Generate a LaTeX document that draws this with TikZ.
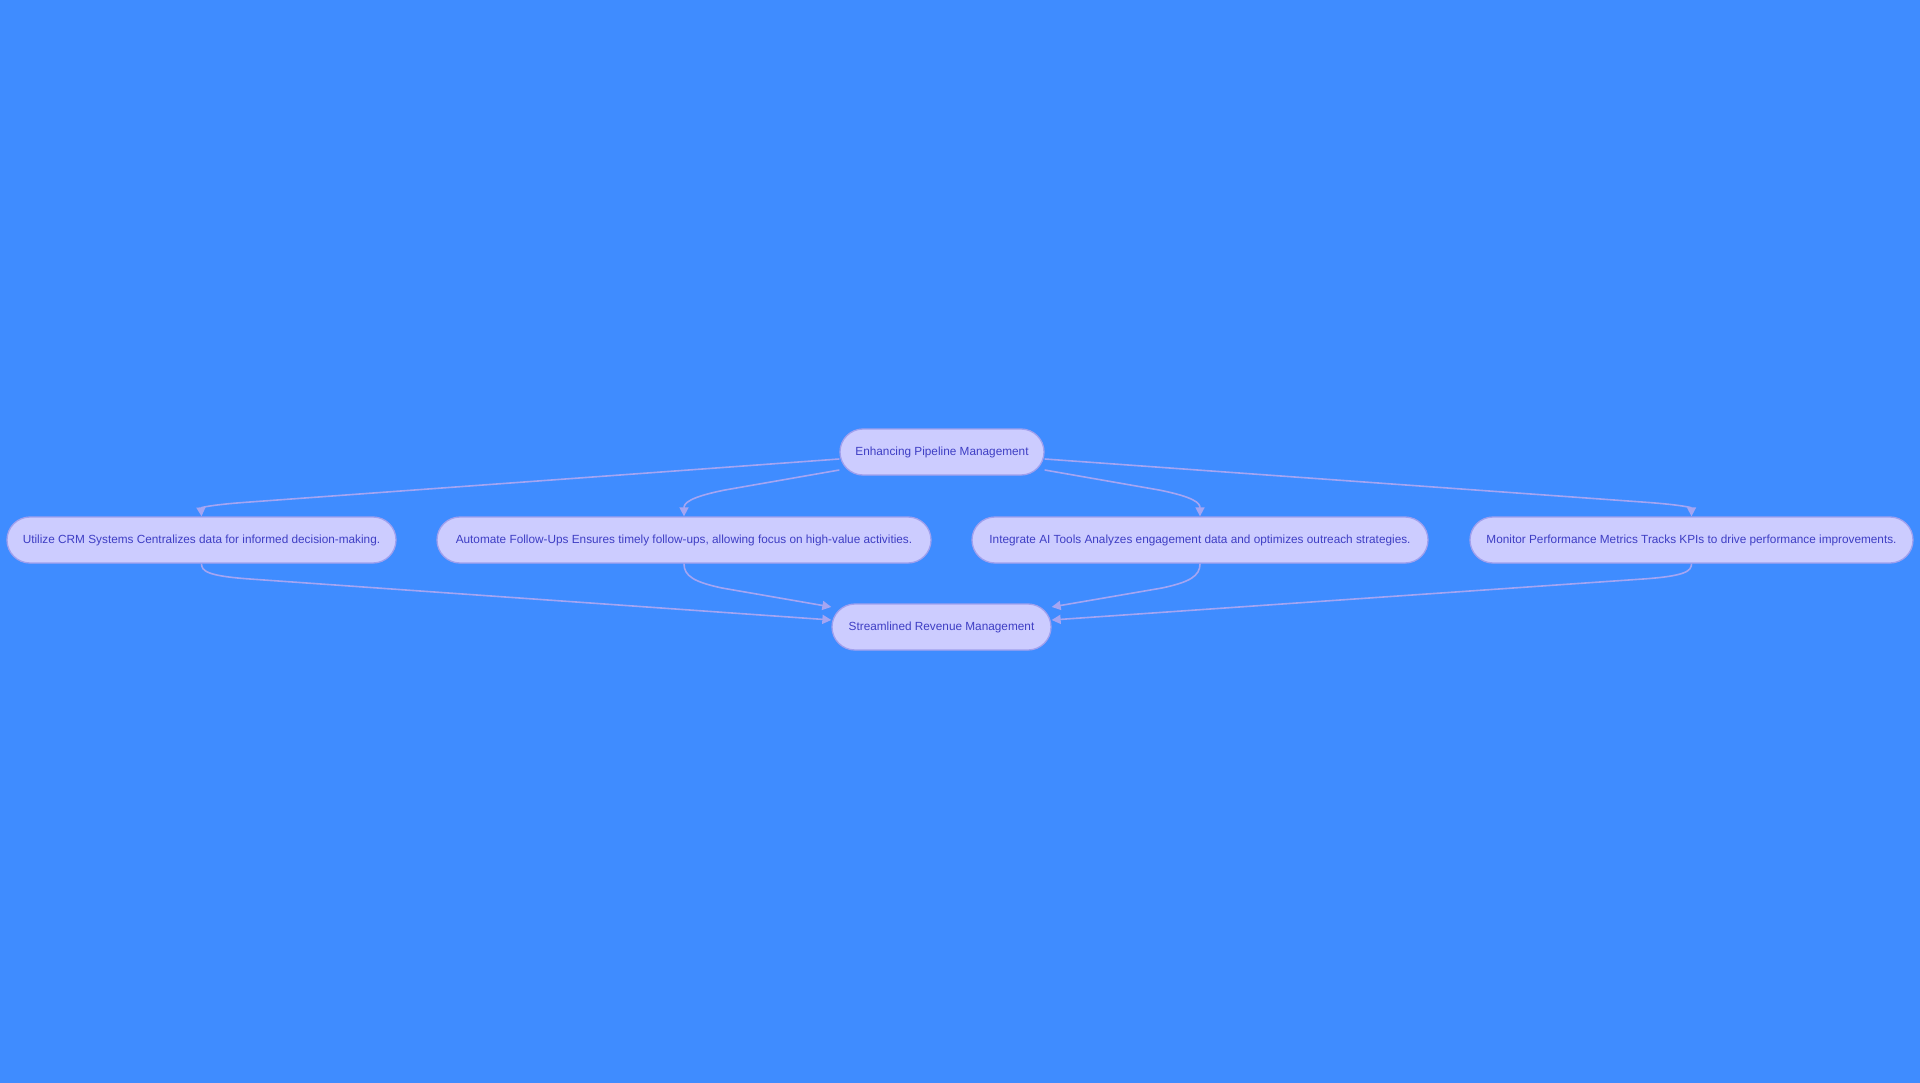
\documentclass[tikz,border=0pt]{standalone}
\usepackage{fontspec}
\setmainfont{Liberation Sans}
\usetikzlibrary{arrows.meta}
\definecolor{bgcol}{RGB}{63,140,255}
\definecolor{nodefill}{RGB}{204,204,255}
\definecolor{nodeline}{RGB}{160,160,238}
\definecolor{txtcol}{RGB}{62,62,196}
\definecolor{edgecol}{RGB}{165,165,242}
\tikzset{
  pill/.style={draw=nodeline, fill=nodefill, line width=1.3pt, rounded corners=23pt,
    minimum height=46pt, inner sep=0pt, text=txtcol,
    font=\fontsize{11.8pt}{13pt}\selectfont},
  flow/.style={draw=edgecol, line width=1.6pt, -{Triangle[length=9pt,width=9pt]}}
}
\begin{document}
\begin{tikzpicture}[x=1pt,y=-1pt]
\useasboundingbox (0,0) rectangle (1920,1083);
\fill[bgcol] (0,0) rectangle (1920,1083);

\node[pill, minimum width=204pt] (top) at (942,452) {Enhancing Pipeline Management};
\node[pill, minimum width=389pt] (crm) at (201.5,540) {Utilize CRM Systems Centralizes data for informed decision-making.};
\node[pill, minimum width=494pt] (auto) at (684,540) {Automate Follow-Ups Ensures timely follow-ups, allowing focus on high-value activities.};
\node[pill, minimum width=456pt] (integ) at (1200,540) {Integrate AI Tools Analyzes engagement data and optimizes outreach strategies.};
\node[pill, minimum width=443pt] (mon) at (1691.5,540) {Monitor Performance Metrics Tracks KPIs to drive performance improvements.};
\node[pill, minimum width=219pt] (bot) at (941.5,627) {Streamlined Revenue Management};

\draw[flow] ([yshift=-7pt]top.west) -- (250,502) .. controls (207,505) and (201,508) .. (crm.north);
\draw[flow] ([yshift=-18pt]top.west) -- (725,490) .. controls (690,497) and (684,503) .. (auto.north);
\draw[flow] ([yshift=-18pt]top.east) -- (1159,490) .. controls (1194,497) and (1200,503) .. (integ.north);
\draw[flow] ([yshift=-7pt]top.east) -- (1642,502) .. controls (1685,505) and (1691.5,508) .. (mon.north);

\draw[flow] (crm.south) .. controls (201.5,571) and (207,576) .. (250,579) -- ([yshift=7pt]bot.west);
\draw[flow] (auto.south) .. controls (684,576) and (694,582) .. (722,588) -- ([yshift=20pt]bot.west);
\draw[flow] (integ.south) .. controls (1200,576) and (1190,582) .. (1162,588) -- ([yshift=20pt]bot.east);
\draw[flow] (mon.south) .. controls (1691.5,571) and (1686,576) .. (1643,579) -- ([yshift=7pt]bot.east);
\end{tikzpicture}
\end{document}
